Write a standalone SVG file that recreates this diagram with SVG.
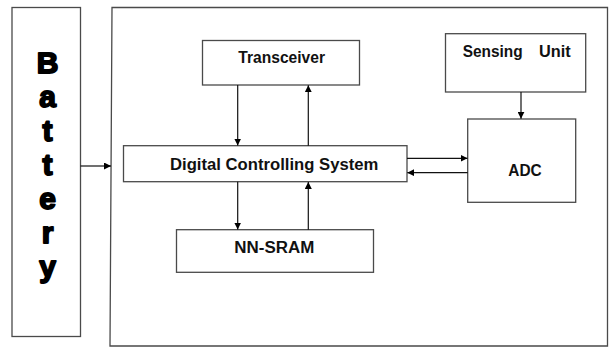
<svg xmlns="http://www.w3.org/2000/svg" width="613" height="348" viewBox="0 0 613 348">
<defs>
<marker id="ah" viewBox="0 0 10 10" refX="10" refY="5" markerWidth="7" markerHeight="7" markerUnits="userSpaceOnUse" orient="auto">
<path d="M0,0 L10,5 L0,10 Z" fill="#000"/>
</marker>
<style>
.box{fill:#fff;stroke:#4a4a4a;stroke-width:1.3}
.lbl{font-family:"Liberation Sans",Arial,sans-serif;font-weight:bold;font-size:16px;fill:#111}
.bat{font-family:"Liberation Sans",Arial,sans-serif;font-weight:900;font-size:30px;fill:#000;stroke:#000;stroke-width:1.8;stroke-linejoin:round;text-anchor:middle}
.con{fill:none;stroke:#111;stroke-width:1.2;marker-end:url(#ah)}
</style>
</defs>
<rect width="613" height="348" fill="#fff"/>
<g id="battery">
<rect class="box" x="12" y="7.5" width="68.5" height="329"/>
<text class="bat" x="47.5" y="73">B</text>
<text class="bat" x="47.5" y="107">a</text>
<text class="bat" x="47.5" y="141">t</text>
<text class="bat" x="47.5" y="175">t</text>
<text class="bat" x="47.5" y="209">e</text>
<text class="bat" x="47.5" y="243">r</text>
<text class="bat" x="47.5" y="277">y</text>
</g>
<g id="system">
<path class="box" d="M112,7.5 L607.5,7.5 L607.5,346 L110,346 Z"/>
</g>
<g id="transceiver">
<rect class="box" x="202.5" y="40.5" width="157" height="44.5"/>
<text class="lbl" x="238.3" y="63" textLength="86.7" lengthAdjust="spacingAndGlyphs">Transceiver</text>
</g>
<g id="dcs">
<rect class="box" x="123.5" y="145.7" width="283.5" height="36"/>
<text class="lbl" x="170" y="169.7" textLength="208.3" lengthAdjust="spacingAndGlyphs">Digital Controlling System</text>
</g>
<g id="nnsram">
<rect class="box" x="176.5" y="229.7" width="197" height="42.6"/>
<text class="lbl" x="234.3" y="252.7" textLength="80" lengthAdjust="spacingAndGlyphs">NN-SRAM</text>
</g>
<g id="sensing">
<rect class="box" x="445.5" y="33.7" width="140.2" height="58.3"/>
<text class="lbl" x="462.7" y="57" textLength="60" lengthAdjust="spacingAndGlyphs">Sensing</text>
<text class="lbl" x="539" y="57" textLength="31.7" lengthAdjust="spacingAndGlyphs">Unit</text>
</g>
<g id="adc">
<rect class="box" x="467.7" y="119" width="108" height="83.3"/>
<text class="lbl" x="508.3" y="175.7" textLength="33.4" lengthAdjust="spacingAndGlyphs">ADC</text>
</g>
<g id="connectors">
<line class="con" x1="80.5" y1="166" x2="111" y2="166"/>
<line class="con" x1="237.7" y1="85" x2="237.7" y2="145.5"/>
<line class="con" x1="308.3" y1="145.7" x2="308.3" y2="85.2"/>
<line class="con" x1="237.7" y1="181.7" x2="237.7" y2="229.5"/>
<line class="con" x1="308.3" y1="229.7" x2="308.3" y2="182"/>
<line class="con" x1="521" y1="92" x2="521" y2="118.8"/>
<line class="con" x1="407" y1="158.3" x2="467.5" y2="158.3"/>
<line class="con" x1="467.7" y1="172.7" x2="407.3" y2="172.7"/>
</g>
</svg>
